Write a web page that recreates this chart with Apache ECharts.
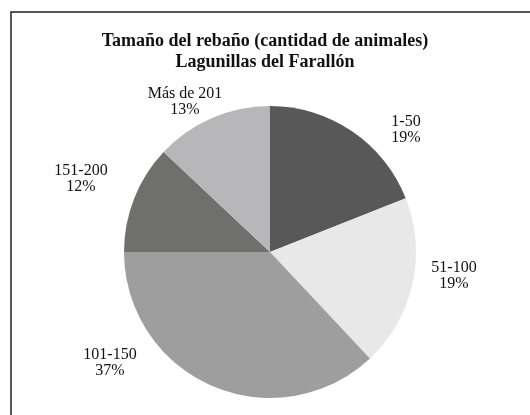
<!DOCTYPE html>
<html>
<head>
<meta charset="utf-8">
<script src="https://cdn.jsdelivr.net/npm/echarts@6/dist/echarts.min.js"></script>
<style>
  html, body { margin: 0; padding: 0; background: #fff; }
  #chart { width: 530px; height: 415px; }
</style>
</head>
<body>
<div id="chart"></div>
<script>
// datos del gráfico
const categories = ['1-50', '51-100', '101-150', '151-200', 'Más de 201'];
const percents = [19, 19, 37, 12, 13];
const sliceColors = ['#585858', '#e8e8e8', '#9d9e9d', '#6f6f6e', '#b7b7b9'];

// posición (centro) de cada etiqueta, como en el original
const labelAnchors = [[406, 130], [454, 276], [110, 363], [81, 179], [185, 102]];

const myChart = echarts.init(document.getElementById('chart'));

const option = {
  backgroundColor: '#fff',
  animation: false,
  title: {
    text: 'Tamaño del rebaño (cantidad de animales)\nLagunillas del Farallón',
    left: 'center',
    top: 26,
    textStyle: {
      fontFamily: 'Liberation Serif',
      fontSize: 18,
      fontWeight: 'bold',
      color: '#111',
      lineHeight: 21
    }
  },
  graphic: [{
    type: 'rect',
    shape: { x: 11, y: 12, width: 600, height: 600 },
    style: { fill: 'none', stroke: '#222', lineWidth: 1.5 },
    silent: true
  }],
  series: [{
    type: 'pie',
    center: [270, 252],
    radius: 146,
    startAngle: 90,
    clockwise: true,
    avoidLabelOverlap: false,
    itemStyle: { borderWidth: 0 },
    label: {
      show: true,
      position: 'outside',
      fontFamily: 'Liberation Serif',
      fontSize: 16,
      lineHeight: 16,
      color: '#111',
      align: 'center',
      formatter: p => p.name + '\n' + p.value + '%'
    },
    labelLine: { show: false },
    labelLayout: params => {
      const a = labelAnchors[params.dataIndex];
      return { x: a[0], y: a[1], align: 'center', verticalAlign: 'middle' };
    },
    emphasis: { disabled: true },
    data: categories.map((name, i) => ({
      name: name,
      value: percents[i],
      itemStyle: { color: sliceColors[i] }
    }))
  }]
};

myChart.setOption(option);
</script>
</body>
</html>
